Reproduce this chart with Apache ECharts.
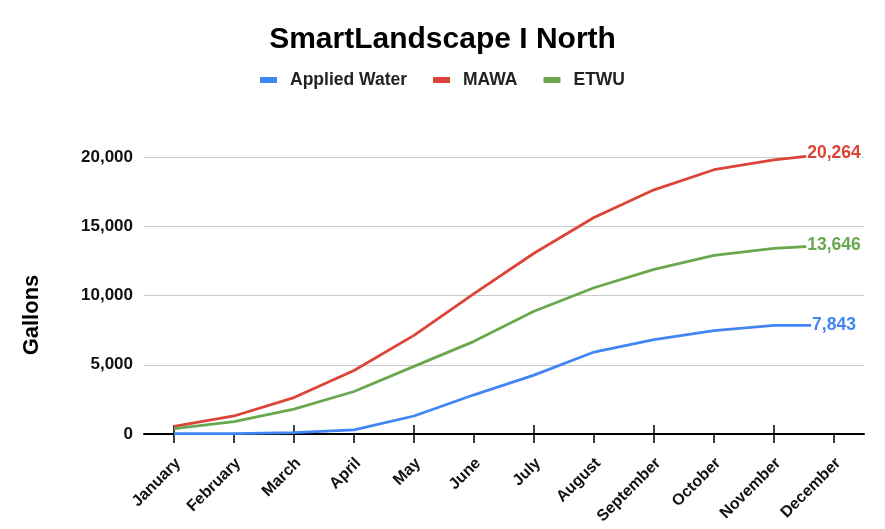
<!DOCTYPE html>
<html>
<head>
<meta charset="utf-8">
<script src="https://cdn.jsdelivr.net/npm/echarts@6/dist/echarts.min.js"></script>
<style>html,body{margin:0;padding:0;background:#fff;}#c{width:885px;height:529px;}</style>
</head>
<body>
<div id="c"></div>
<script>
const categories = ['January','February','March','April','May','June','July','August','September','October','November','December'];
const appliedWater = [20, 30, 100, 300, 1300, 2830, 4250, 5920, 6810, 7460, 7840, 7843];
const mawa = [550, 1300, 2630, 4590, 7120, 10140, 13050, 15630, 17630, 19080, 19800, 20264];
const etwu = [390, 890, 1790, 3070, 4880, 6690, 8860, 10560, 11880, 12900, 13400, 13646];
const yTicks = [0, 5000, 10000, 15000, 20000];

const FONT = '"Liberation Sans", Arial, sans-serif';
const fmt = v => v.toLocaleString('en-US');

function mkData(arr, color) {
  return arr.map((v, i) => i === arr.length - 1 ? {
    value: v,
    label: {
      show: true, position: 'inside', formatter: fmt(v), color: color,
      fontFamily: FONT, fontWeight: 'bold', fontSize: 17.5,
      backgroundColor: '#fff', padding: [1, 1]
    }
  } : v);
}

function mkSeries(name, arr, color) {
  return {
    name: name, type: 'line', data: mkData(arr, color),
    symbol: 'circle', symbolSize: 0.1, showSymbol: true,
    clip: false, lineStyle: { width: 2.8, color: color }, itemStyle: { color: color },
    label: { show: false },
    emphasis: { disabled: true }, z: 3
  };
}

const chart = echarts.init(document.getElementById('c'), null, { renderer: 'canvas' });
chart.setOption({
  animation: false,
  backgroundColor: '#fff',
  title: {
    text: 'SmartLandscape I North', left: 'center', top: 20,
    textStyle: { fontFamily: FONT, fontWeight: 'bold', fontSize: 30, color: '#000' }
  },
  legend: {
    top: 66, left: 'center', itemWidth: 17, itemHeight: 6, itemGap: 26,
    icon: 'rect',
    textStyle: { fontFamily: FONT, fontWeight: 'bold', fontSize: 17.5, color: '#222', padding: [0, 0, 0, 8] },
    data: ['Applied Water', 'MAWA', 'ETWU']
  },
  graphic: [{
    type: 'text', x: 32, y: 315, rotation: Math.PI / 2,
    style: { text: 'Gallons', fontFamily: FONT, fontWeight: 'bold', fontSize: 22, fill: '#000', align: 'center', verticalAlign: 'middle' }
  }],
  grid: { left: 144, right: 21, top: 157, bottom: 95, containLabel: false },
  xAxis: [{
    type: 'category', data: categories, boundaryGap: true, position: 'bottom',
    axisLine: { lineStyle: { color: '#000', width: 2 } },
    axisTick: { show: true, alignWithLabel: true, length: 9, lineStyle: { color: '#000', width: 1.5 } },
    axisLabel: { rotate: 45, margin: 31, padding: [0, -6, 0, 0], interval: 0, fontFamily: FONT, fontWeight: 'bold', fontSize: 16, color: '#111' },
    splitLine: { show: false }
  }, {
    type: 'category', data: categories, boundaryGap: true, position: 'bottom',
    axisLine: { show: false },
    axisTick: { show: true, inside: true, alignWithLabel: true, length: 9, lineStyle: { color: '#000', width: 1.5 } },
    axisLabel: { show: false }, splitLine: { show: false }
  }],
  yAxis: {
    type: 'value', min: yTicks[0], max: yTicks[yTicks.length - 1], interval: 5000,
    axisLine: { show: false }, axisTick: { show: false },
    axisLabel: { margin: 11, fontFamily: FONT, fontWeight: 'bold', fontSize: 17, color: '#111', formatter: v => fmt(v) },
    splitLine: { lineStyle: { color: '#cccccc', width: 1 } }
  },
  series: [
    mkSeries('Applied Water', appliedWater, '#4285f4'),
    mkSeries('MAWA', mawa, '#db4437'),
    mkSeries('ETWU', etwu, '#6aa84f')
  ]
});
</script>
</body>
</html>
